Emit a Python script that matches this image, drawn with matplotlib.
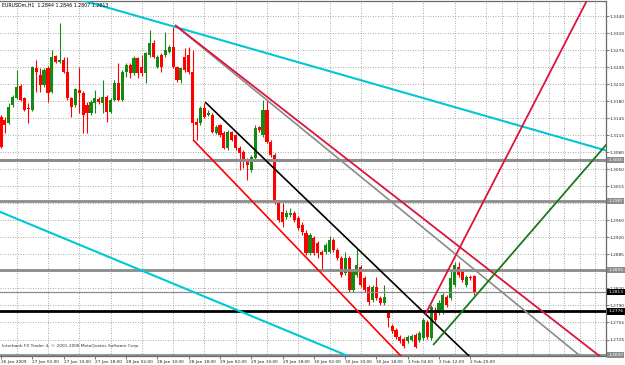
import matplotlib
matplotlib.use("Agg")
import matplotlib.pyplot as plt
import matplotlib.transforms as mtransforms
import numpy as np

# ---------------- data (EURUSDm, H1) ----------------
opens = [1.3148, 1.3142, 1.3136, 1.3170, 1.3184, 1.3207, 1.3184, 1.3165, 1.3161, 1.3241,
         1.3228, 1.3209, 1.3241, 1.3195, 1.3264, 1.3253, 1.3256, 1.3234, 1.3184, 1.3170,
         1.3199, 1.3193, 1.3170, 1.3155, 1.3174, 1.3182, 1.3174, 1.3186, 1.3157, 1.3180,
         1.3212, 1.3180, 1.3234, 1.3247, 1.3232, 1.3260, 1.3243, 1.3232, 1.3266, 1.3289,
         1.3243, 1.3266, 1.3266, 1.3272, 1.3281, 1.3243, 1.3218, 1.3262, 1.3266, 1.3234,
         1.3138, 1.3136, 1.3165, 1.3151, 1.3151, 1.3117, 1.3132, 1.3117, 1.3088, 1.3119,
         1.3113, 1.3088, 1.3081, 1.3065, 1.3046, 1.3069, 1.3128, 1.3113, 1.3161, 1.3100,
         1.3075, 1.2983, 1.2966, 1.2957, 1.2960, 1.2964, 1.2955, 1.2941, 1.2926, 1.2888,
         1.2916, 1.2907, 1.2890, 1.2890, 1.2890, 1.2913, 1.2894, 1.2878, 1.2850, 1.2878,
         1.2817, 1.2846, 1.2861, 1.2840, 1.2823, 1.2798, 1.2823, 1.2802, 1.2792, 1.2775,
         1.2748, 1.2741, 1.2727, 1.2723, 1.2720, 1.2722, 1.2731, 1.2722, 1.2725, 1.2756,
         1.2725, 1.2779, 1.2775, 1.2775, 1.2804, 1.2802, 1.2827, 1.2861, 1.2851, 1.2827,
         1.2842, 1.2844]
highs = [1.3151, 1.3148, 1.3174, 1.3190, 1.3237, 1.3211, 1.3186, 1.3174, 1.3245, 1.3256,
         1.3241, 1.3241, 1.3245, 1.3276, 1.3266, 1.3327, 1.3262, 1.3262, 1.3186, 1.3203,
         1.3243, 1.3197, 1.3176, 1.3180, 1.3199, 1.3186, 1.3218, 1.3190, 1.3184, 1.3218,
         1.3251, 1.3237, 1.3251, 1.3251, 1.3264, 1.3262, 1.3266, 1.3272, 1.3314, 1.3295,
         1.3266, 1.3270, 1.3310, 1.3285, 1.3319, 1.3245, 1.3243, 1.3279, 1.3281, 1.3276,
         1.3146, 1.3169, 1.3174, 1.3161, 1.3155, 1.3132, 1.3134, 1.3121, 1.3123, 1.3121,
         1.3115, 1.3092, 1.3085, 1.3069, 1.3075, 1.3132, 1.3130, 1.3180, 1.3180, 1.3104,
         1.3079, 1.2989, 1.2983, 1.2970, 1.2974, 1.2968, 1.2958, 1.2947, 1.2932, 1.2926,
         1.2920, 1.2911, 1.2894, 1.2907, 1.2920, 1.2916, 1.2898, 1.2882, 1.2890, 1.2882,
         1.2855, 1.2898, 1.2865, 1.2844, 1.2827, 1.2827, 1.2842, 1.2806, 1.2827, 1.2779,
         1.2752, 1.2744, 1.2731, 1.2727, 1.2731, 1.2733, 1.2735, 1.2739, 1.2764, 1.2760,
         1.2788, 1.2785, 1.2798, 1.2811, 1.2807, 1.2855, 1.2871, 1.2871, 1.2855, 1.2846,
         1.2846, 1.2846]
lows = [1.3088, 1.3117, 1.3134, 1.3167, 1.3182, 1.3178, 1.3159, 1.3136, 1.3159, 1.3195,
        1.3195, 1.3205, 1.3176, 1.3193, 1.3251, 1.3251, 1.3232, 1.3180, 1.3148, 1.3167,
        1.3155, 1.3117, 1.3117, 1.3151, 1.3155, 1.3172, 1.3155, 1.3138, 1.3155, 1.3178,
        1.3178, 1.3178, 1.3224, 1.3222, 1.3228, 1.3222, 1.3226, 1.3212, 1.3262, 1.3260,
        1.3241, 1.3234, 1.3262, 1.3270, 1.3241, 1.3214, 1.3212, 1.3234, 1.3230, 1.3104,
        1.3104, 1.3132, 1.3146, 1.3149, 1.3117, 1.3115, 1.3109, 1.3086, 1.3085, 1.3102,
        1.3085, 1.3046, 1.3050, 1.3027, 1.3042, 1.3065, 1.3119, 1.3109, 1.3098, 1.3071,
        1.2981, 1.2947, 1.2937, 1.2953, 1.2957, 1.2947, 1.2932, 1.2922, 1.2884, 1.2884,
        1.2884, 1.2878, 1.2855, 1.2886, 1.2888, 1.2890, 1.2874, 1.2842, 1.2846, 1.2813,
        1.2813, 1.2842, 1.2823, 1.2813, 1.2788, 1.2794, 1.2798, 1.2788, 1.2788, 1.2746,
        1.2735, 1.2723, 1.2716, 1.2706, 1.2716, 1.2720, 1.2706, 1.2718, 1.2722, 1.2723,
        1.2722, 1.2756, 1.2769, 1.2771, 1.2785, 1.2798, 1.2823, 1.2842, 1.2832, 1.2823,
        1.2836, 1.2807]
closes = [1.3090, 1.3132, 1.3167, 1.3186, 1.3205, 1.3180, 1.3161, 1.3163, 1.3243, 1.3234,
          1.3209, 1.3237, 1.3193, 1.3262, 1.3253, 1.3256, 1.3234, 1.3184, 1.3167, 1.3201,
          1.3193, 1.3151, 1.3155, 1.3176, 1.3184, 1.3176, 1.3186, 1.3157, 1.3180, 1.3212,
          1.3180, 1.3234, 1.3247, 1.3232, 1.3260, 1.3232, 1.3232, 1.3270, 1.3289, 1.3262,
          1.3262, 1.3243, 1.3276, 1.3281, 1.3243, 1.3218, 1.3241, 1.3237, 1.3234, 1.3136,
          1.3132, 1.3165, 1.3148, 1.3155, 1.3119, 1.3128, 1.3113, 1.3088, 1.3119, 1.3104,
          1.3088, 1.3079, 1.3065, 1.3056, 1.3071, 1.3127, 1.3123, 1.3161, 1.3100, 1.3075,
          1.2985, 1.2951, 1.2947, 1.2964, 1.2964, 1.2951, 1.2935, 1.2928, 1.2888, 1.2922,
          1.2888, 1.2888, 1.2884, 1.2903, 1.2913, 1.2894, 1.2878, 1.2846, 1.2878, 1.2817,
          1.2851, 1.2865, 1.2827, 1.2817, 1.2794, 1.2823, 1.2802, 1.2792, 1.2804, 1.2764,
          1.2739, 1.2727, 1.2720, 1.2710, 1.2727, 1.2729, 1.2708, 1.2735, 1.2760, 1.2727,
          1.2785, 1.2760, 1.2792, 1.2807, 1.2788, 1.2840, 1.2865, 1.2846, 1.2836, 1.2842,
          1.2840, 1.2813]

date_labels = ["26 Jan 2009", "27 Jan 02:00", "27 Jan 10:00", "27 Jan 18:00",
               "28 Jan 02:00", "28 Jan 10:00", "28 Jan 18:00", "29 Jan 02:00",
               "29 Jan 10:00", "29 Jan 18:00", "30 Jan 02:00", "30 Jan 10:00",
               "30 Jan 18:00", "2 Feb 04:00", "2 Feb 12:00", "2 Feb 20:00"]
price_ticks = [1.3340, 1.33075, 1.3275, 1.32425, 1.3210, 1.31775, 1.3145, 1.31125,
               1.3080, 1.30475, 1.3015, 1.29825, 1.2950, 1.29175, 1.2885, 1.28525,
               1.2820, 1.27875, 1.2755, 1.27225]
price_labels = ["1.3340", "1.3310", "1.3275", "1.3245", "1.3210", "1.3180", "1.3145",
                "1.3115", "1.3080", "1.3050", "1.3015", "", "1.2950", "1.2920",
                "1.2885", "", "1.2820", "1.2790", "1.2755", "1.2725"]

# horizontal levels: price, colour, width, label box colour
levels = [1.3065, 1.2987, 1.2855, 1.2813, 1.2776, 1.2693]
level_colors = ["#8c8c8c", "#8c8c8c", "#8c8c8c", "#8c8c8c", "#000000", "#8c8c8c"]
level_widths = [2.2, 2.0, 2.0, 0.9, 2.0, 2.0]
level_box = ["#8c8c8c", "#8c8c8c", "#8c8c8c", "#000000", "#000000", "#8c8c8c"]

# trend lines: (bar, price) of two anchors; drawn as rays to the right
trend_names = ["cyan_top", "cyan_low", "gray", "crimson", "red", "black", "crimson_up", "green"]
trend_x0 = [20.0, -5.0, 44.5, 44.5, 49.1, 52.2, 108.4, 110.5]
trend_y0 = [1.3372, 1.2981, 1.3323, 1.3323, 1.3104, 1.3176, 1.2769, 1.2712]
trend_x1 = [154.0, 88.7, 146.8, 152.7, 102.0, 119.4, 149.9, 154.0]
trend_y1 = [1.3085, 1.2691, 1.2699, 1.2693, 1.2693, 1.2693, 1.3371, 1.3088]
trend_colors = ["#00c8d2", "#00c8d2", "#8a8a8a", "#dc143c", "#ff0000", "#000000", "#dc143c", "#1a7a1a"]
trend_widths = [1.5, 1.5, 1.2, 1.3, 1.2, 1.2, 1.3, 1.3]

title_text = "EURUSDm,H1  1.2844 1.2846 1.2807 1.2813"
copyright_text = "Interbank FX Trader 4, \u00a9 2001-2008 MetaQuotes Software Corp."

# ---------------- figure ----------------
W, H = 625, 365
fig = plt.figure(figsize=(W / 100, H / 100), dpi=100)
fig.patch.set_facecolor("white")
ax = fig.add_axes([0.0, 9 / H, 606 / W, 355 / H])
ax.set_facecolor("white")

n = len(opens)
xs = np.arange(n)
ax.set_xlim(-0.26, 154.7)
ax.set_ylim(1.2691, 1.3369)

fs = 3.1
# grid
ax.set_xticks(np.arange(0, 8 * len(date_labels), 8))
ax.set_xticklabels(date_labels, fontsize=fs, ha="left", color="#222222")
ax.set_xticks(np.arange(0, 156, 4), minor=True)
ax.set_yticks(price_ticks)
ax.set_yticklabels(price_labels, fontsize=fs, color="#222222")
ax.yaxis.tick_right()
ax.tick_params(axis="x", which="major", length=2, width=0.5, pad=0.8, color="#444444")
ax.tick_params(axis="x", which="minor", length=0)
ax.tick_params(axis="y", length=2, width=0.5, pad=0.8, color="#444444")
ax.grid(True, which="minor", axis="x", linestyle=(0, (1, 2)), color="#8f8f8f", lw=0.6)
ax.grid(True, which="major", axis="y", linestyle=(0, (1, 2)), color="#8f8f8f", lw=0.6)
for lab in ax.get_xticklabels():
    lab.set_horizontalalignment("left")

for sp in ax.spines.values():
    sp.set_color("#6a6a6a")
    sp.set_linewidth(0.9)
ax.spines["left"].set_visible(False)

# candles
o = np.array(opens); h = np.array(highs); l = np.array(lows); c = np.array(closes)
up = c >= o
cols = np.where(up, "#138a13", "#ff0000")
ax.vlines(xs, l, h, colors=cols, lw=0.8, zorder=3)
body_lo = np.minimum(o, c)
body_h = np.maximum(np.abs(c - o), 0.00007)
ax.bar(xs, body_h, bottom=body_lo, width=0.8, color=cols, linewidth=0, zorder=4)

# horizontal levels
for lv, col, lw in zip(levels, level_colors, level_widths):
    ax.axhline(lv, color=col, lw=lw, zorder=5)

# trend lines (rays to the right)
for x0, y0, x1, y1, col, lw in zip(trend_x0, trend_y0, trend_x1, trend_y1, trend_colors, trend_widths):
    slope = (y1 - y0) / (x1 - x0)
    xe = 170.0
    ax.plot([x0, xe], [y0, y0 + slope * (xe - x0)], color=col, lw=lw, zorder=6,
            solid_capstyle="butt")

# level price boxes on the right scale
trans = mtransforms.blended_transform_factory(ax.transAxes, ax.transData)
for lv, bc in zip(levels, level_box):
    ax.text(1.004, lv, f"{lv:.4f}", transform=trans, fontsize=fs, color="white",
            va="center", ha="left", clip_on=False, zorder=10,
            bbox=dict(boxstyle="square,pad=0.25", fc=bc, ec="none"))

# texts
ax.text(0.004, 0.995, title_text, transform=ax.transAxes, fontsize=fs + 0.3,
        va="top", ha="left", color="black", zorder=11)
ax.text(0.003, 0.022, copyright_text, transform=ax.transAxes, fontsize=fs,
        va="bottom", ha="left", color="#333333", zorder=11)

fig.savefig("out.png", dpi=100, facecolor="white")
